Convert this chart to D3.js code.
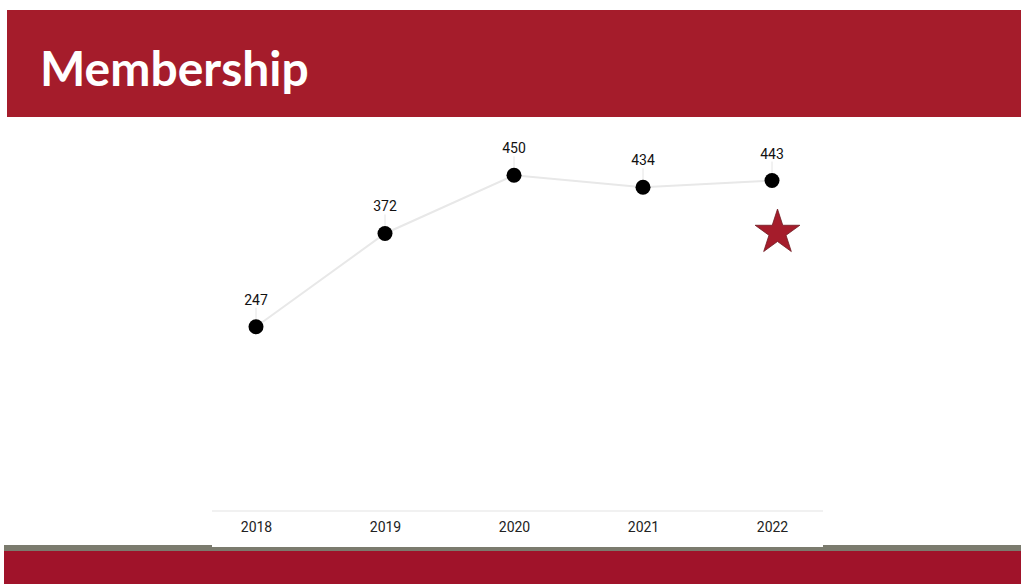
<!DOCTYPE html>
<html>
<head>
<meta charset="utf-8">
<script src="https://cdn.jsdelivr.net/npm/d3@7"></script>
<style>
html,body{margin:0;padding:0;background:#fff;overflow:hidden}
svg{display:block}
</style>
</head>
<body>
<svg id="chart" width="1021" height="584"></svg>
<script>
const years = ["2018","2019","2020","2021","2022"];
const members = [247, 372, 450, 434, 443];
const yDomain = [0, 500];
const title = "Membership";

const svg = d3.select("#chart");
const W = 1021, H = 584;

// header band
svg.append("rect").attr("x",7).attr("y",10).attr("width",W-7).attr("height",107).attr("fill","#A51C2B");
svg.append("text").attr("x",40).attr("y",86).text(title)
  .attr("fill","#fff").attr("font-family","Lato, Open Sans, sans-serif")
  .attr("font-weight",700).attr("font-size",48);

// footer bands
svg.append("rect").attr("x",4).attr("y",545).attr("width",W-4).attr("height",6).attr("fill","#7B7B6E");
svg.append("rect").attr("x",4).attr("y",551).attr("width",W-4).attr("height",33).attr("fill","#A0132A");

// chart panel
svg.append("rect").attr("x",212).attr("y",120).attr("width",611).attr("height",427).attr("fill","#fff");

const x = d3.scalePoint().domain(years).range([256, 772]);
const y = d3.scaleLinear().domain(yDomain).range([511, 138]);

// axis baseline
const xAxis = d3.axisBottom(x).tickSize(0).tickPadding(8);
const gx = svg.append("g").attr("transform","translate(0,511)").call(xAxis);
gx.select(".domain").remove();
gx.append("line").attr("x1",212).attr("x2",823).attr("y1",0).attr("y2",0).attr("stroke","#ececec").attr("stroke-width",1.5);
gx.selectAll(".tick text").attr("font-family","Roboto, Arial, sans-serif").attr("font-size",14).attr("fill","#222").attr("dy","0.9em");

const data = years.map((yr,i)=>({yr, v: members[i]}));

// line
svg.append("path").datum(data)
  .attr("d", d3.line().x(d=>x(d.yr)).y(d=>y(d.v)))
  .attr("fill","none").attr("stroke","#e8e8e8").attr("stroke-width",2);

// leader lines
svg.selectAll(".leader").data(data).join("line")
  .attr("x1",d=>x(d.yr)).attr("x2",d=>x(d.yr))
  .attr("y1",d=>y(d.v)-19).attr("y2",d=>y(d.v))
  .attr("stroke","#e4e4e4").attr("stroke-width",1);

// points
svg.selectAll(".pt").data(data).join("circle")
  .attr("cx",d=>x(d.yr)).attr("cy",d=>y(d.v)).attr("r",7.5).attr("fill","#000");

// labels
svg.selectAll(".lbl").data(data).join("text")
  .attr("x",d=>x(d.yr)).attr("y",d=>y(d.v)-22)
  .attr("text-anchor","middle")
  .attr("font-family","Roboto, Arial, sans-serif").attr("font-size",14).attr("fill","#111")
  .text(d=>d.v);

// star
const star = d3.symbol().type(d3.symbolStar).size(620);
svg.append("path").attr("d", star())
  .attr("transform",`translate(${x("2022")+5.5},${y(443)+52}) `)
  .attr("fill","#A51C2B").attr("stroke","#6e1a22").attr("stroke-width",0.8);
</script>
</body>
</html>
